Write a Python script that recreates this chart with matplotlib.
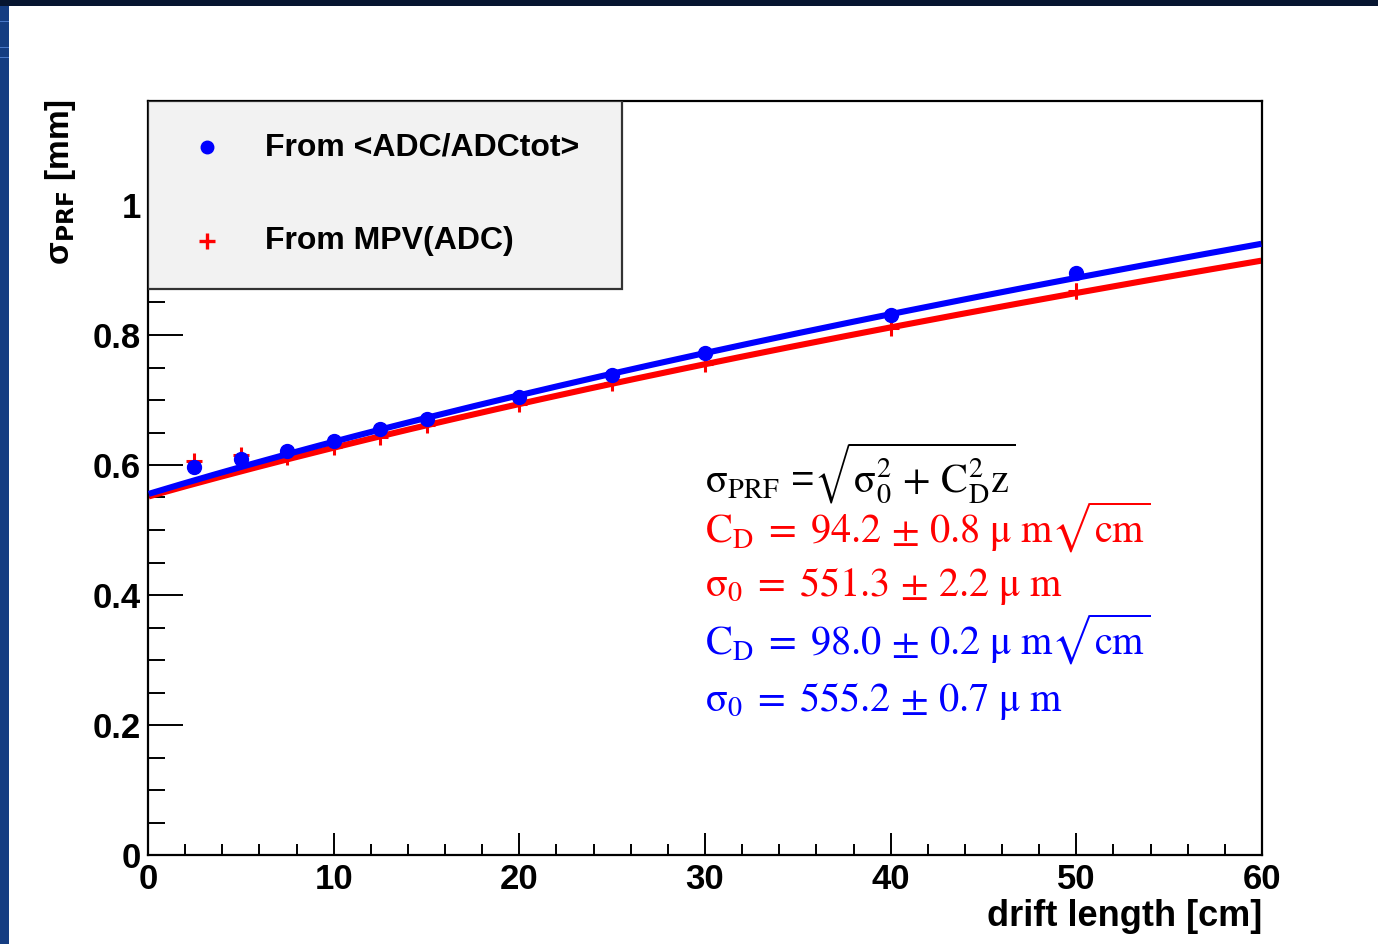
import matplotlib
matplotlib.use("Agg")
import matplotlib.pyplot as plt
from matplotlib.patches import Rectangle
import numpy as np

plt.rcParams['font.family'] = ['Liberation Sans', 'DejaVu Sans']
plt.rcParams['mathtext.fontset'] = 'stix'

# data
drift = [2.5, 5, 7.5, 10, 12.5, 15, 20, 25, 30, 40, 50]
sigma_adc = [0.597, 0.609, 0.622, 0.637, 0.655, 0.671, 0.704, 0.739, 0.772, 0.831, 0.895]
sigma_mpv = [0.606, 0.616, 0.612, 0.627, 0.643, 0.661, 0.694, 0.726, 0.756, 0.811, 0.868]
err_mpv = [0.008, 0.008, 0.006, 0.006, 0.006, 0.006, 0.007, 0.007, 0.008, 0.010, 0.012]

# fit parameters (mm, mm/sqrt(cm))
fit_adc = [0.5552, 0.0980]
fit_mpv = [0.5513, 0.0942]

labels = ["From <ADC/ADCtot>", "From MPV(ADC)"]
x_ticks = [0, 10, 20, 30, 40, 50, 60]
y_ticks = [0, 0.2, 0.4, 0.6, 0.8, 1.0]

fig = plt.figure(figsize=(13.78, 9.44), dpi=100)
fig.patch.set_facecolor('white')

# slide frame (dark top band, blue left strip)
fig.patches.append(Rectangle((0, 1 - 6 / 944), 1, 6 / 944, transform=fig.transFigure,
                             facecolor='#061530', edgecolor='none'))
fig.patches.append(Rectangle((0, 0), 9 / 1378, 1 - 6 / 944, transform=fig.transFigure,
                             facecolor='#153d82', edgecolor='none'))
for yy in [22, 48, 58]:
    fig.patches.append(Rectangle((0, 1 - yy / 944), 9 / 1378, 1.5 / 944, transform=fig.transFigure,
                                 facecolor='#4a78c8', edgecolor='none'))

ax = fig.add_axes([148 / 1378, 1 - 855 / 944, 1114 / 1378, 754 / 944])
ax.set_xlim(0, 60)
ax.set_ylim(0, 1.16)

z = np.linspace(0.2, 59.8, 300)
ax.plot(z, np.sqrt(fit_mpv[0]**2 + fit_mpv[1]**2 * z), color='red', lw=4.4, zorder=2)
ax.errorbar(drift, sigma_mpv, yerr=err_mpv, fmt='+', color='red', ms=11, mew=2.2,
            elinewidth=2, capsize=0, zorder=3)
ax.plot(z, np.sqrt(fit_adc[0]**2 + fit_adc[1]**2 * z), color='blue', lw=4.4, zorder=4)
ax.plot(drift, sigma_adc, 'o', color='blue', ms=10, zorder=5)

# ticks, ROOT style
ax.set_xticks(x_ticks)
ax.set_xticklabels([str(t) for t in x_ticks])
ax.set_yticks(y_ticks)
ax.set_yticklabels(['0', '0.2', '0.4', '0.6', '0.8', '1'])
ax.set_xticks(np.arange(0, 61, 2), minor=True)
ax.set_yticks(np.arange(0, 1.16, 0.05), minor=True)
ax.tick_params(which='both', direction='in', top=False, right=False, width=1.4, colors='black')
ax.tick_params(axis='y', which='major', length=25, pad=5)
ax.tick_params(axis='y', which='minor', length=12)
ax.tick_params(axis='x', which='major', length=16, pad=6)
ax.tick_params(axis='x', which='minor', length=8)
for lab in ax.get_xticklabels() + ax.get_yticklabels():
    lab.set_fontsize(25)
    lab.set_fontweight('bold')
for s in ax.spines.values():
    s.set_linewidth(1.6)

fig.text(1262 / 1378, 1 - 916 / 944, "drift length [cm]", ha='right', va='center',
         fontsize=26, fontweight='bold')
fig.text(60 / 1378, 1 - 99 / 944, "σ$_{\\mathbf{PRF}}$ [mm]", rotation=90,
         ha='center', va='top', fontsize=24, fontweight='bold', math_fontfamily='dejavusans')

# legend box
ax.add_patch(Rectangle((0, 0.7507), 0.4255, 0.2493, transform=ax.transAxes,
                       facecolor='#f2f2f2', edgecolor='#333333', lw=1.6, zorder=6))
leg_y = [1 - (147 - 101) / 754, 1 - (241 - 101) / 754]
ax.plot([(207 - 148) / 1114], [leg_y[0]], 'o', color='blue', ms=9,
        transform=ax.transAxes, zorder=7, clip_on=False)
ax.plot([(207 - 148) / 1114], [leg_y[1]], '+', color='red', ms=12, mew=2.4,
        transform=ax.transAxes, zorder=7, clip_on=False)
for yy, lab in zip(leg_y, labels):
    ax.text((265 - 148) / 1114, yy, lab, transform=ax.transAxes, ha='left', va='center',
            fontsize=23, fontweight='bold', zorder=7)

# fit formula and results
fs = 29
ax.text(30.0, 0.558, r"$\mathrm{\sigma_{PRF}}$ =$\sqrt{\mathrm{\sigma_0^2\,+\,C_D^2 z}}$",
        fontsize=fs, color='black', va='baseline', zorder=8)
ax.text(30.0, 0.480, r"$\mathrm{C_D\;=\;94.2\,\pm\,0.8\ \mu\ m}\sqrt{\mathrm{cm}}$",
        fontsize=fs, color='red', va='baseline', zorder=8)
ax.text(30.0, 0.398, r"$\mathrm{\sigma_0\;=\;551.3\,\pm\,2.2\ \mu\ m}$",
        fontsize=fs, color='red', va='baseline', zorder=8)
ax.text(30.0, 0.309, r"$\mathrm{C_D\;=\;98.0\,\pm\,0.2\ \mu\ m}\sqrt{\mathrm{cm}}$",
        fontsize=fs, color='blue', va='baseline', zorder=8)
ax.text(30.0, 0.221, r"$\mathrm{\sigma_0\;=\;555.2\,\pm\,0.7\ \mu\ m}$",
        fontsize=fs, color='blue', va='baseline', zorder=8)

fig.savefig("out.png", dpi=100)
